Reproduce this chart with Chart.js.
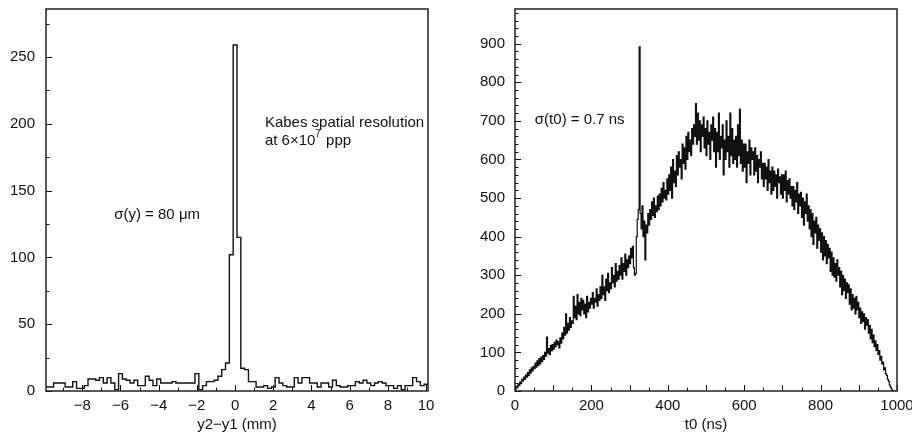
<!DOCTYPE html>
<html>
<head>
<meta charset="utf-8">
<script src="https://cdn.jsdelivr.net/npm/chart.js@4.4.1/dist/chart.umd.min.js"></script>
<style>
  html, body { margin: 0; padding: 0; background: #fff; }
  body { width: 912px; height: 435px; position: relative; overflow: hidden; }
  .box { position: absolute; top: 0; height: 435px; }
  #leftBox { left: 0; width: 456px; }
  #rightBox { left: 440px; width: 490px; }
</style>
</head>
<body>
<div class="box" id="leftBox"><canvas id="leftChart" width="456" height="435"></canvas></div>
<div class="box" id="rightBox"><canvas id="rightChart" width="490" height="435"></canvas></div>
<script>
// left histogram: y2-y1 (mm), 100 bins of 0.2 mm starting at -9.9
const leftLow = -9.9;
const leftBinWidth = 0.2;
const leftCounts = [
  3, 3, 6, 6, 6, 3, 3, 7, 2, 2,
  4, 9, 9, 8, 10, 6, 10, 6, 1, 13,
  9, 8, 6, 8, 4, 4, 11, 8, 4, 9,
  6, 6, 6, 7, 6, 6, 6, 6, 6, 13,
  1, 4, 7, 7, 8, 11, 16, 21, 102, 259,
  115, 17, 16, 7, 7, 3, 3, 4, 2, 3,
  10, 6, 4, 3, 3, 10, 6, 10, 10, 6,
  6, 3, 6, 6, 3, 8, 4, 3, 3, 4,
  4, 7, 6, 8, 6, 4, 6, 7, 6, 4,
  4, 2, 4, 1, 4, 4, 10, 7, 4, 5
];
const leftXTicks = [-8, -6, -4, -2, 0, 2, 4, 6, 8, 10];
const leftYTicks = [0, 50, 100, 150, 200, 250];

// right histogram: t0 (ns), 400 bins of 2.5 ns starting at 0
const rightLow = 0;
const rightBinWidth = 2.5;
const rightCounts = [
  4, 12, 8, 18, 14, 24, 19, 30, 26, 36,
  30, 42, 36, 48, 40, 55, 46, 60, 52, 64,
  58, 72, 62, 78, 66, 84, 70, 88, 76, 92,
  82, 100, 90, 140, 98, 110, 94, 118, 104, 120,
  108, 126, 114, 132, 120, 128, 112, 138, 124, 150,
  135, 165, 145, 200, 150, 175, 158, 190, 165, 182,
  175, 245, 190, 220, 185, 250, 200, 230, 195, 240,
  210, 235, 200, 225, 190, 245, 205, 230, 215, 240,
  225, 255, 215, 240, 230, 265, 220, 250, 235, 270,
  240, 300, 250, 270, 235, 290, 260, 305, 255, 280,
  265, 320, 280, 300, 270, 330, 285, 310, 290, 325,
  300, 345, 290, 330, 310, 355, 300, 340, 320, 350,
  330, 370, 345, 375, 320, 300, 305, 400, 445, 470,
  892, 460, 420, 480, 400, 440, 340, 430, 410, 460,
  430, 470, 445, 490, 455, 500, 450, 480, 465, 505,
  470, 510, 480, 525, 490, 540, 500, 520, 495, 550,
  510, 560, 520, 580, 500, 600, 540, 570, 530, 610,
  560, 620, 580, 600, 550, 640, 590, 630, 575, 660,
  600, 670, 620, 650, 610, 680, 640, 690, 660, 745,
  640, 720, 650, 700, 620, 690, 660, 710, 630, 680,
  610, 700, 640, 670, 600, 690, 650, 710, 620, 680,
  580, 670, 620, 720, 600, 660, 630, 690, 560, 650,
  600, 700, 620, 660, 580, 720, 610, 680, 590, 650,
  600, 660, 580, 690, 610, 730, 590, 650, 570, 640,
  580, 640, 540, 620, 590, 650, 560, 630, 600, 620,
  560, 630, 570, 610, 540, 600, 580, 620, 550, 590,
  530, 590, 550, 580, 520, 600, 540, 570, 510, 580,
  520, 570, 530, 560, 500, 575, 540, 555, 510, 560,
  500, 560, 520, 570, 490, 545, 510, 550, 500, 530,
  480, 530, 470, 520, 490, 540, 460, 510, 480, 515,
  450, 500, 430, 490, 460, 510, 440, 480, 420, 470,
  400, 460, 380, 440, 410, 450, 370, 430, 390, 420,
  360, 410, 340, 400, 350, 390, 330, 380, 345, 370,
  310, 360, 300, 345, 295, 330, 285, 340, 300, 320,
  270, 310, 250, 300, 260, 290, 240, 280, 255, 275,
  225, 265, 210, 250, 215, 240, 200, 245, 210, 230,
  190, 215, 175, 205, 180, 200, 160, 190, 170, 185,
  150, 170, 135, 160, 125, 145, 115, 130, 105, 120,
  95, 105, 80, 90, 70, 75, 55, 60, 45, 40,
  30, 25, 15, 10, 5, 2, 0, 0, 0, 0
];
const rightXTicks = [0, 200, 400, 600, 800, 1000];
const rightYTicks = [0, 100, 200, 300, 400, 500, 600, 700, 800, 900];

const FONT = "'Liberation Sans', Arial, Helvetica, sans-serif";
Chart.defaults.font.family = FONT;
Chart.defaults.color = '#111';

// histogram outline as step points (value held until the next bin edge)
function steps(low, width, counts) {
  const pts = counts.map((c, i) => ({ x: low + i * width, y: c }));
  pts.push({ x: low + counts.length * width, y: counts[counts.length - 1] });
  return pts;
}

// ROOT-like frame with ticks pointing inward
const frameTicks = {
  id: 'frameTicks',
  afterDatasetsDraw(chart, args, opts) {
    const { ctx, chartArea: a, scales: { x, y } } = chart;
    ctx.save();
    ctx.strokeStyle = '#111';
    ctx.lineWidth = 1;
    const drawAxis = (scale, minor, major, horiz) => {
      const k0 = Math.ceil(scale.min / minor - 1e-6);
      for (let k = k0; k * minor <= scale.max + 1e-6; k++) {
        const v = k * minor;
        const isMajor = Math.abs(v / major - Math.round(v / major)) < 1e-6;
        const len = isMajor ? 6 : 3.5;
        const p = Math.round(scale.getPixelForValue(v)) + 0.5;
        ctx.beginPath();
        if (horiz) { ctx.moveTo(p, a.bottom); ctx.lineTo(p, a.bottom - len); }
        else { ctx.moveTo(a.left, p); ctx.lineTo(a.left + len, p); }
        ctx.stroke();
      }
    };
    drawAxis(x, opts.xMinor, opts.xMajor, true);
    drawAxis(y, opts.yMinor, opts.yMajor, false);
    ctx.lineWidth = 1.5;
    ctx.strokeStyle = '#222';
    ctx.strokeRect(a.left, a.top, a.right - a.left, a.bottom - a.top);
    ctx.restore();
  }
};

// text notes placed in data coordinates
const notes = {
  id: 'notes',
  afterDatasetsDraw(chart, args, opts) {
    const { ctx, scales: { x, y } } = chart;
    ctx.save();
    ctx.fillStyle = '#111';
    ctx.textBaseline = 'middle';
    (opts.items || []).forEach(item => {
      let px = x.getPixelForValue(item.x);
      const py = y.getPixelForValue(item.y);
      item.parts.forEach(part => {
        ctx.font = (part.sup ? '10px ' : '15px ') + FONT;
        ctx.fillText(part.t, px, part.sup ? py - 7 : py);
        px += ctx.measureText(part.t).width + (part.sup ? 1 : 0);
      });
    });
    ctx.restore();
  }
};

function histChart(id, cfg) {
  return new Chart(document.getElementById(id), {
    type: 'line',
    data: {
      datasets: [{
        data: steps(cfg.low, cfg.width, cfg.counts),
        stepped: 'before',
        borderColor: '#111',
        borderWidth: cfg.lineWidth,
        pointRadius: 0,
        fill: false
      }]
    },
    options: {
      responsive: false,
      animation: false,
      layout: { padding: { top: 9, right: cfg.padRight, left: 0, bottom: 0 } },
      plugins: {
        legend: { display: false },
        tooltip: { enabled: false },
        frameTicks: cfg.ticks,
        notes: { items: cfg.notes }
      },
      scales: {
        x: {
          type: 'linear',
          min: cfg.xMin,
          max: cfg.xMax,
          grid: { display: false, drawTicks: false },
          border: { display: false },
          ticks: {
            font: { size: 15 },
            padding: 6,
            maxRotation: 0,
            callback: v => String(v).replace('-', '\u2212')
          },
          afterBuildTicks: s => { s.ticks = cfg.xTicks.map(v => ({ value: v })); },
          afterFit: s => { s.height = 44; s.paddingLeft = 0; s.paddingRight = 0; },
          title: {
            display: true,
            text: cfg.xTitle,
            font: { size: 15 },
            padding: { top: 0, bottom: 1 }
          }
        },
        y: {
          min: 0,
          max: cfg.yMax,
          grid: { display: false, drawTicks: false },
          border: { display: false },
          ticks: { font: { size: 15 }, padding: cfg.yPad },
          afterBuildTicks: s => { s.ticks = cfg.yTicks.map(v => ({ value: v })); },
          afterFit: s => { s.width = cfg.yWidth; s.paddingTop = 0; s.paddingBottom = 0; }
        }
      }
    },
    plugins: [frameTicks, notes]
  });
}

histChart('leftChart', {
  low: leftLow, width: leftBinWidth, counts: leftCounts, lineWidth: 1.4,
  xMin: -9.9, xMax: 10.1, yMax: 286,
  xTicks: leftXTicks, yTicks: leftYTicks,
  xTitle: 'y2\u2212y1 (mm)',
  yWidth: 46, yPad: 11, padRight: 28,
  ticks: { xMinor: 1, xMajor: 2, yMinor: 25, yMajor: 50 },
  notes: [
    { x: -6.33, y: 132, parts: [{ t: '\u03c3(y) = 80 \u03bcm' }] },
    { x: 1.56, y: 201, parts: [{ t: 'Kabes spatial resolution' }] },
    { x: 1.56, y: 187, parts: [{ t: 'at 6\u00d710' }, { t: '7', sup: true }, { t: ' ppp' }] }
  ]
});

histChart('rightChart', {
  low: rightLow, width: rightBinWidth, counts: rightCounts, lineWidth: 1.2,
  xMin: 0, xMax: 1000, yMax: 990,
  xTicks: rightXTicks, yTicks: rightYTicks,
  xTitle: 't0 (ns)',
  yWidth: 75, yPad: 10, padRight: 33,
  ticks: { xMinor: 50, xMajor: 100, yMinor: 20, yMajor: 100 },
  notes: [
    { x: 52, y: 703, parts: [{ t: '\u03c3(t0) = 0.7 ns' }] }
  ]
});
</script>
</body>
</html>
